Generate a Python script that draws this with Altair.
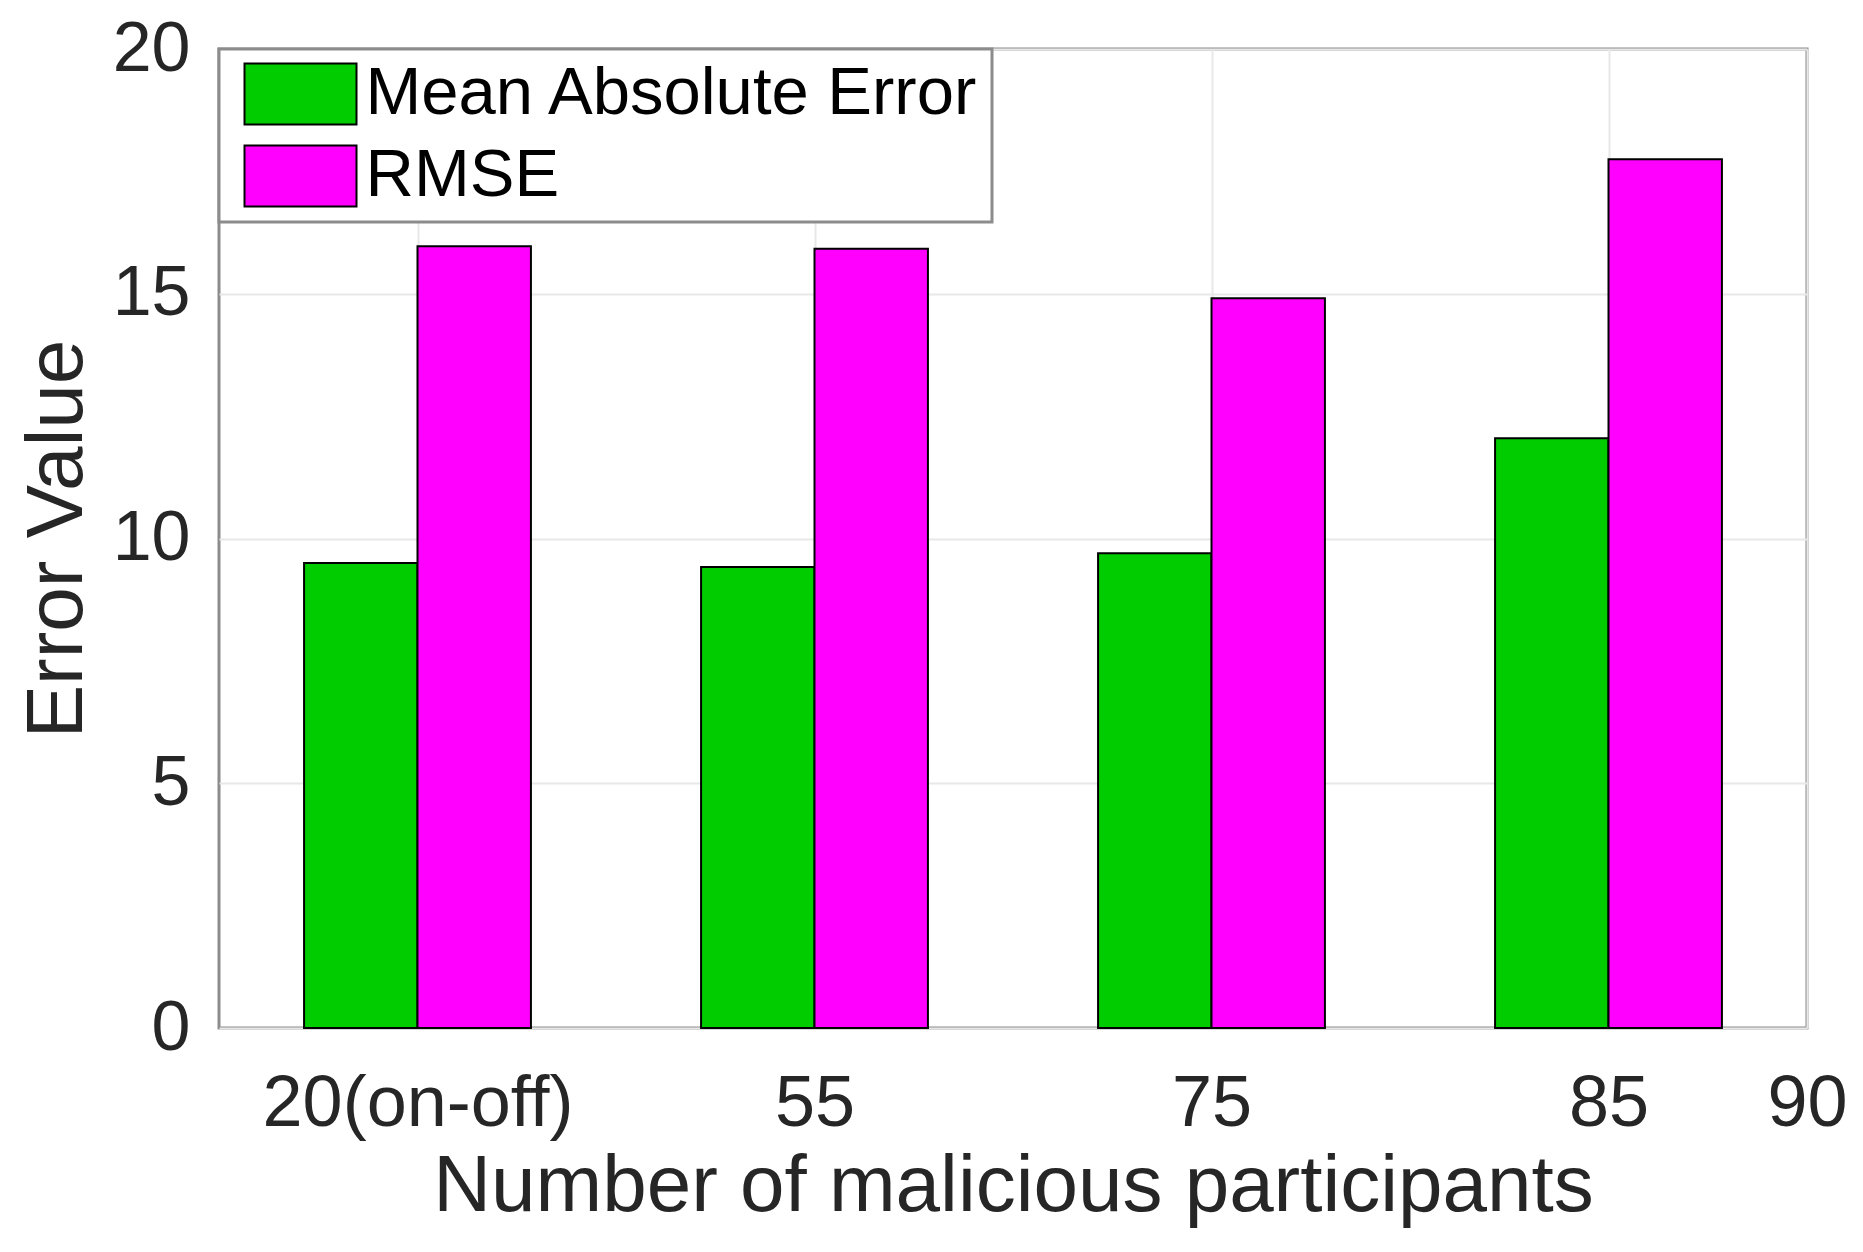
import altair as alt
import pandas as pd

# ---- data ----
groups = ["20(on-off)", "55", "75", "85"]
extra_tick_label = "90"
series = ["Mean Absolute Error", "RMSE"]
mae = [9.5, 9.42, 9.7, 12.05]
rmse = [15.97, 15.92, 14.91, 17.75]
colors = ["#00CC00", "#FF00FF"]
y_ticks = [0, 5, 10, 15, 20]
x_ticks = [1, 2, 3, 4, 4.5]

rows = []
for i, g in enumerate(groups):
    rows.append({"pos": i + 1, "series": series[0], "side": 0, "value": mae[i]})
    rows.append({"pos": i + 1, "series": series[1], "side": 1, "value": rmse[i]})
df = pd.DataFrame(rows)

bar_w = 2 / 7  # MATLAB grouped bar width for 2 series
tick_labels = groups + [extra_tick_label]
label_expr = " : ".join(
    f"datum.value == {v} ? '{l}'" for v, l in zip(x_ticks, tick_labels)
) + " : ''"

FONT = "Liberation Sans"
TXT = "#262626"

chart = (
    alt.Chart(df)
    .transform_calculate(
        x0=f"datum.pos - {bar_w} + datum.side * {bar_w}",
        x1=f"datum.pos + datum.side * {bar_w}",
        base="0",
    )
    .mark_bar(stroke="black", strokeWidth=2, opacity=1)
    .encode(
        x=alt.X(
            "x0:Q",
            scale=alt.Scale(domain=[0.5, 4.5], nice=False, zero=False),
            axis=alt.Axis(
                values=x_ticks,
                labelExpr=label_expr,
                title="Number of malicious participants",
                labelFlush=False,
                labelOverlap=False,
                labelLimit=1000,
                labelPadding=40,
                titlePadding=8,
                labelFontSize=72,
                titleFontSize=80,
            ),
        ),
        x2="x1:Q",
        y=alt.Y(
            "value:Q",
            scale=alt.Scale(domain=[0, 20], nice=False),
            axis=alt.Axis(
                values=y_ticks,
                title="Error Value",
                labelPadding=29,
                titlePadding=14,
                labelFontSize=70,
                titleFontSize=80,
            ),
        ),
        y2="base:Q",
        color=alt.Color(
            "series:N",
            scale=alt.Scale(domain=series, range=colors),
            legend=alt.Legend(
                title=None,
                orient="none",
                legendX=0,
                legendY=0,
                direction="vertical",
                fillColor="white",
                strokeColor="#8c8c8c",
                padding=11.5,
                rowPadding=13,
                symbolType="M-0.639,-1L3.033,-1L3.033,1L-0.639,1Z",
                symbolSize=3721,
                symbolStrokeColor="black",
                symbolStrokeWidth=2,
                symbolOpacity=1,
                labelFontSize=67,
                labelFont=FONT,
                labelColor="black",
                labelOffset=68,
                labelLimit=2000,
            ),
        ),
    )
    .properties(
        width=1588,
        height=979,
        autosize=alt.AutoSizeParams(type="none"),
        padding={"left": 211, "top": 41, "right": 40, "bottom": 200},
        background="white",
    )
    .configure_view(stroke="#8c8c8c", strokeWidth=3)
    .configure_legend(strokeWidth=3)
    .configure_axis(
        domain=False,
        ticks=False,
        grid=True,
        gridColor="#e8e8e8",
        gridWidth=2,
        labelFont=FONT,
        titleFont=FONT,
        labelColor=TXT,
        titleColor=TXT,
        titleFontWeight="normal",
    )
)

chart.save("out.html", embed_options={"renderer": "svg", "actions": False})
